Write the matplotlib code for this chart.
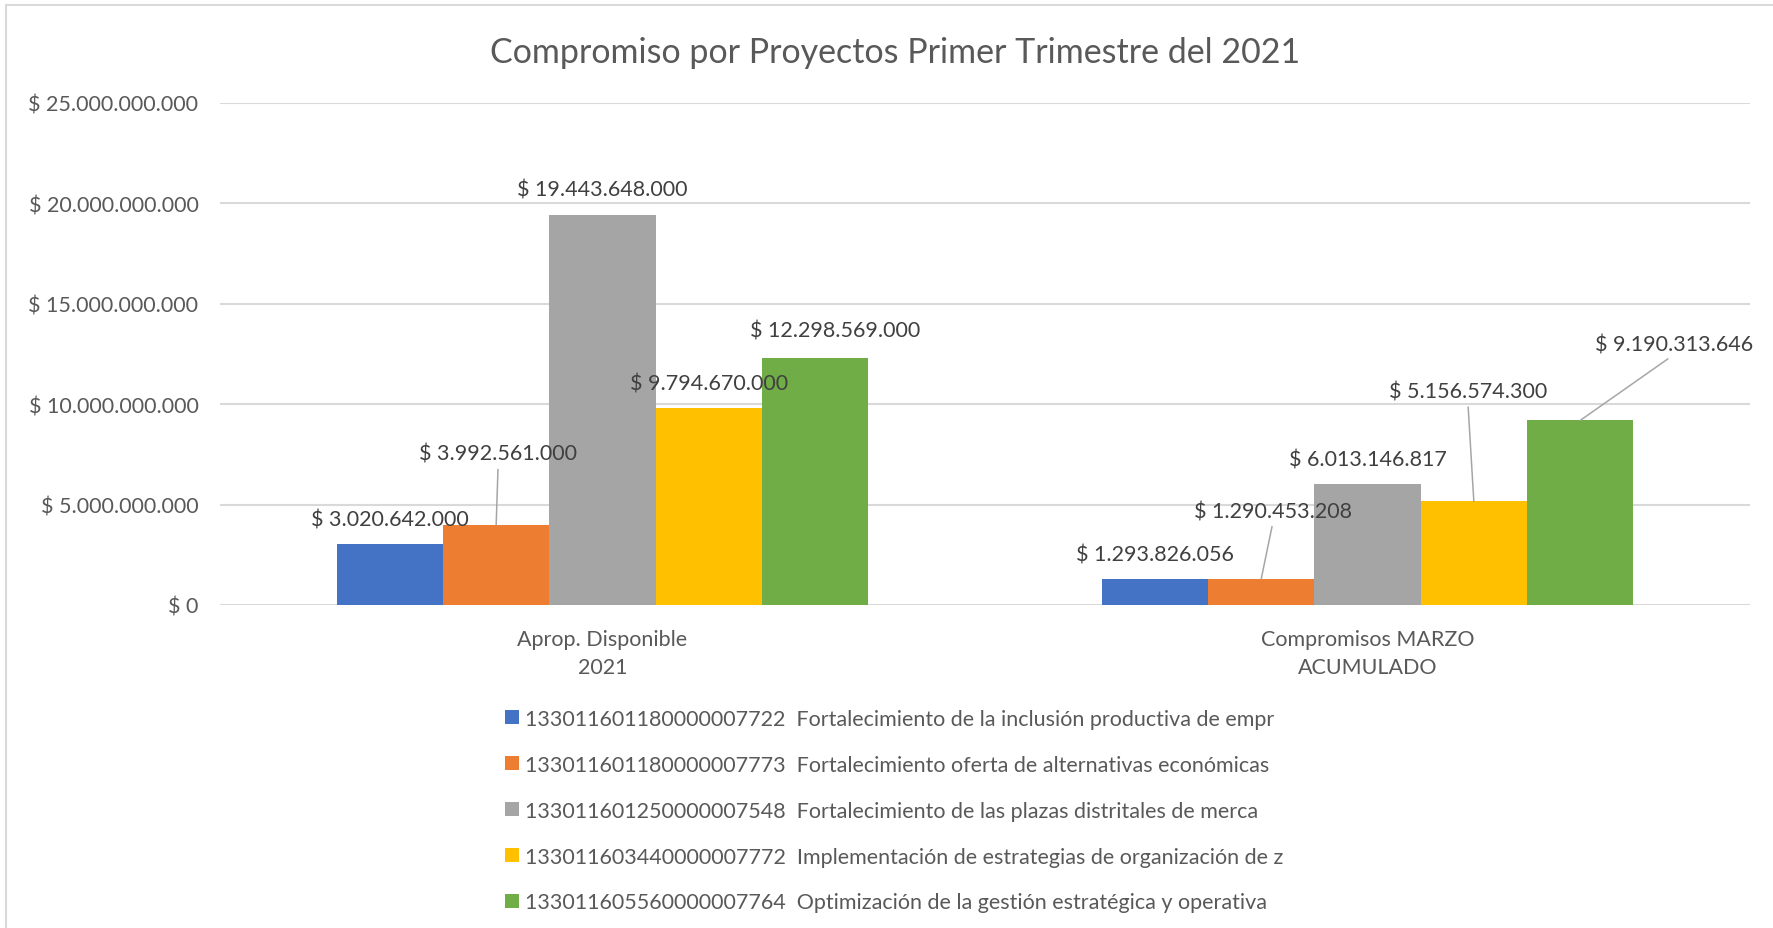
import numpy as np
import matplotlib.pyplot as plt
from matplotlib.ticker import FuncFormatter, MultipleLocator
from matplotlib.lines import Line2D

# Categories and series
categories = ['Aprop. Disponible\n2021', 'Compromisos MARZO\nACUMULADO']
series_names = [
    '133011601180000007722  Fortalecimiento de la inclusión productiva de empr',
    '133011601180000007773  Fortalecimiento oferta de alternativas económicas',
    '133011601250000007548  Fortalecimiento de las plazas distritales de merca',
    '133011603440000007772  Implementación de estrategias de organización de z',
    '133011605560000007764  Optimización de la gestión estratégica y operativa',
]
apropiacion = [3020642000, 3992561000, 19443648000, 9794670000, 12298569000]
compromisos = [1293826056, 1290453208, 6013146817, 5156574300, 9190313646]
colors = ['#4472C4', '#ED7D31', '#A5A5A5', '#FFC000', '#70AD47']

values = np.array([apropiacion, compromisos])  # rows: category, cols: series

# label offset in pixels from the bar top, and whether a leader line is drawn
label_offsets = [
    [(0, 25, False), (2, 71, True), (0, 25, False), (0, 25, False), (20, 28, False)],
    [(0, 25, False), (12, 68, True), (0, 25, False), (-6, 110, True), (94, 76, True)],
]

TEXT = '#595959'
LABEL = '#404040'
GRID = '#D9D9D9'
plt.rcParams['font.family'] = ['Lato', 'DejaVu Sans']


def peso(v, pos=None):
    return '$ ' + f'{int(round(v)):,}'.replace(',', '.')


fig = plt.figure(figsize=(17.73, 9.29), dpi=100)
ax = fig.add_axes([220 / 1773, 1 - 606 / 929, (1750 - 220) / 1773, (606 - 104) / 929])

x = np.arange(len(categories))
width = 0.139
n = len(series_names)
for i in range(n):
    pos = x + (i - (n - 1) / 2) * width
    ax.bar(pos, values[:, i], width=width, color=colors[i], label=series_names[i], zorder=3)
    for j in range(len(categories)):
        dx, dy, leader = label_offsets[j][i]
        arrow = None
        if leader:
            arrow = dict(arrowstyle='-', color='#A6A6A6', lw=1.1, shrinkA=2, shrinkB=0,
                         relpos=(0.5, 0.0))
        ax.annotate(peso(values[j, i]), xy=(pos[j], values[j, i]),
                    xytext=(dx, dy), textcoords='offset pixels',
                    ha='center', va='center', fontsize=15.5, color=LABEL,
                    arrowprops=arrow, zorder=5)

ax.set_xlim(-0.5, len(categories) - 0.5)
ax.set_ylim(0, 25e9)
ax.yaxis.set_major_locator(MultipleLocator(5e9))
ax.yaxis.set_major_formatter(FuncFormatter(peso))
ax.set_xticks(x)
ax.set_xticklabels(categories, linespacing=1.55)
ax.tick_params(axis='both', length=0, labelsize=15.5, labelcolor=TEXT)
ax.tick_params(axis='y', pad=15.5)
ax.tick_params(axis='x', pad=17)
ax.grid(axis='y', color=GRID, linewidth=1.5, zorder=0)
for s in ax.spines.values():
    s.set_visible(False)

fig.suptitle('Compromiso por Proyectos Primer Trimestre del 2021',
             x=895 / 1773, y=1 - 53 / 929, va='center', fontsize=24.5, color=TEXT)

fig.legend(loc='upper left', bbox_to_anchor=(505 / 1773, 1 - 710 / 929),
           frameon=False, fontsize=15.5, labelcolor=TEXT,
           handlelength=0.63, handleheight=0.63, handletextpad=0.3,
           labelspacing=1.2, borderpad=0, borderaxespad=0)

# chart area border
fig.add_artist(Line2D([6 / 1773, 1], [1 - 6 / 929, 1 - 6 / 929], color=GRID, lw=1.5))
fig.add_artist(Line2D([6 / 1773, 6 / 1773], [0, 1 - 6 / 929], color=GRID, lw=1.5))

fig.savefig('out.png', dpi=100)
